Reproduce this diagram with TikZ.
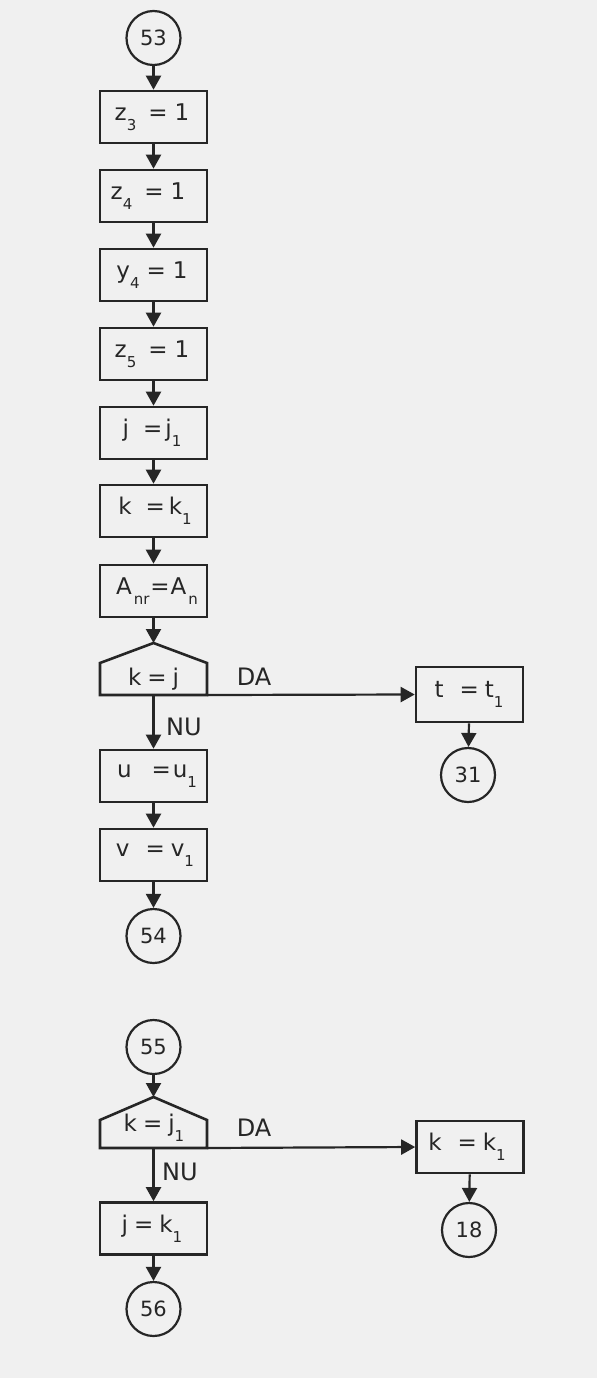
\documentclass[tikz,border=0pt]{standalone}
\usepackage{fontspec}
\setmainfont{DejaVu Sans}
\usetikzlibrary{arrows.meta}
\newcommand{\sbs}[1]{\raisebox{-0.42em}{\fontsize{15}{15}\selectfont #1}}
\begin{document}
\begin{tikzpicture}[x=1pt,y=-1pt,
  every node/.style={font=\fontsize{23}{25}\selectfont, text=black!85},
  box/.style={draw=black!85, line width=2.6pt, minimum width=107pt, minimum height=52pt, inner sep=0pt},
  conn/.style={draw=black!85, circle, line width=2.2pt, minimum size=54pt, inner sep=0pt, font=\fontsize{21}{23}\selectfont},
  arr/.style={draw=black!85, line width=2.2pt, -{Triangle[length=14pt,width=15pt]}},
  dec/.style={draw=black!85, line width=2.6pt, line join=miter},
  lbl/.style={inner sep=0pt, font=\fontsize{24}{26}\selectfont}]
\fill[black!6] (0,0) rectangle (597,1378);
\useasboundingbox (0,0) rectangle (597,1378);

\node[conn] (c53) at (153.5,38) {53};
\node[box] (b1) at (153.5,117) {};
\node at (152,117) {z\sbs{3}\hspace{12pt}=\hspace{7pt}1};
\node[box] (b2) at (153.5,196) {};
\node at (148,196) {z\sbs{4}\hspace{12pt}=\hspace{7pt}1};
\node[box] (b3) at (153.5,275) {};
\node at (152,275) {y\sbs{4}\hspace{7pt}=\hspace{7pt}1};
\node[box] (b4) at (153.5,354) {};
\node at (152,354) {z\sbs{5}\hspace{12pt}=\hspace{7pt}1};
\node[box] (b5) at (153.5,433) {};
\node at (152,433) {j\hspace{14pt}=\hspace{3pt}j\sbs{1}};
\node[box] (b6) at (153.5,511) {};
\node at (155,511) {k\hspace{14pt}=\hspace{4pt}k\sbs{1}};
\node[box] (b7) at (153.5,591) {};
\node at (157,591) {A\hspace{2pt}\sbs{nr}\hspace{1pt}=\hspace{1pt}A\hspace{2pt}\sbs{n}};

% decision 1
\coordinate (d1top) at (153.5,643);
\coordinate (d1bot) at (153.5,695);
\coordinate (d1br) at (207,695);
\draw[dec] (100,695) -- (100,663) -- (d1top) -- (207,663) -- (d1br) -- cycle;
\node (d1txt) at (153.5,679) {k\hspace{6pt}=\hspace{6pt}j};
\node[lbl] (da1) at (254,677) {DA};
\node[lbl] (nu1) at (184,727) {NU};

\node[box, minimum height=55pt] (t1) at (469.5,694.5) {};
\node at (469,694.5) {t\hspace{16pt}=\hspace{6pt}t\sbs{1}};
\node[conn] (c31) at (468,775) {31};

\node[box] (b8) at (153.5,776) {};
\node at (157,776) {u\hspace{20pt}=\hspace{2pt}u\sbs{1}};
\node[box] (b9) at (153.5,855) {};
\node at (155,855) {v\hspace{16pt}=\hspace{6pt}v\sbs{1}};
\node[conn] (c54) at (153.5,936) {54};

\node[conn] (c55) at (153.5,1047) {55};
% decision 2
\coordinate (d2top) at (153.5,1097);
\coordinate (d2bot) at (153.5,1148);
\coordinate (d2br) at (207,1148);
\draw[dec] (100,1148) -- (100,1120) -- (d2top) -- (207,1120) -- (d2br) -- cycle;
\node (d2txt) at (154,1128) {k\hspace{6pt}=\hspace{6pt}j\sbs{1}};
\node[lbl] (da2) at (254,1128) {DA};
\node[lbl] (nu2) at (180,1172) {NU};

\node[box] (k1) at (470,1147) {};
\node at (467,1147) {k\hspace{16pt}=\hspace{6pt}k\sbs{1}};
\node[conn] (c18) at (469,1230) {18};

\node[box] (b10) at (153.5,1228.5) {};
\node at (152,1228.5) {j\hspace{6pt}=\hspace{6pt}k\sbs{1}};
\node[conn] (c56) at (153.5,1309) {56};

% connectors
\draw[arr] (c53) -- (b1);
\draw[arr] (b1) -- (b2);
\draw[arr] (b2) -- (b3);
\draw[arr] (b3) -- (b4);
\draw[arr] (b4) -- (b5);
\draw[arr] (b5) -- (b6);
\draw[arr] (b6) -- (b7);
\draw[arr] (b7) -- (d1top);
\draw[arr] (d1br) -- (t1.west);
\draw[arr] (t1) -- (c31);
\draw[arr] (d1bot) -- (b8);
\draw[arr] (b8) -- (b9);
\draw[arr] (b9) -- (c54);
\draw[arr] (c55) -- (d2top);
\draw[arr] (d2br) -- (k1.west);
\draw[arr] (k1) -- (c18);
\draw[arr] (d2bot) -- (b10);
\draw[arr] (b10) -- (c56);
\end{tikzpicture}
\end{document}
